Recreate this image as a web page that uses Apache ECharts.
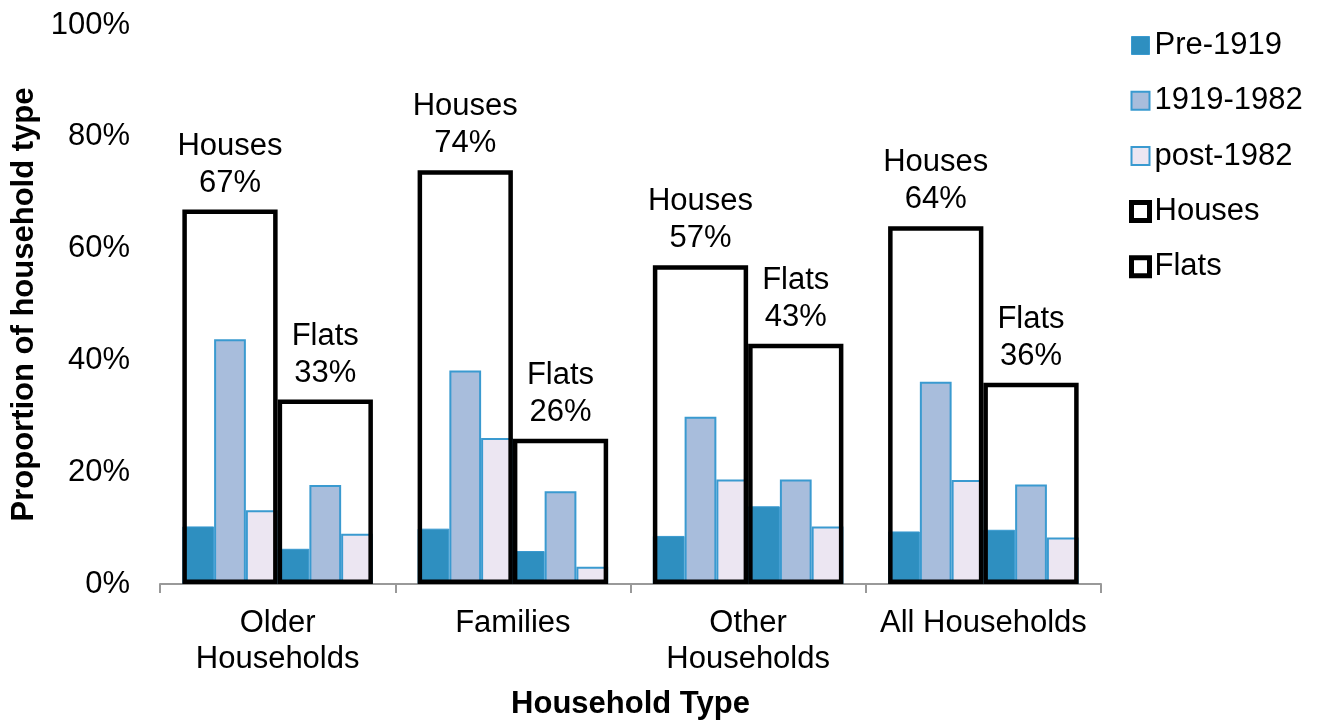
<!DOCTYPE html>
<html><head><meta charset="utf-8">
<script src="https://cdn.jsdelivr.net/npm/echarts@6/dist/echarts.min.js"></script>
<style>html,body{margin:0;padding:0;background:#fff}#c{width:1322px;height:720px}</style>
</head><body><div id="c"></div>
<script>
const categories = ['Older\nHouseholds', 'Families', 'Other\nHouseholds', 'All Households'];
const housesTotal = [67, 74, 57, 64];
const flatsTotal = [33, 26, 43, 36];
const housesPre1919 = [10.3, 9.9, 8.6, 9.4];
const houses1919_1982 = [43.8, 38.2, 29.9, 36.2];
const housesPost1982 = [13.2, 26.1, 18.7, 18.6];
const flatsPre1919 = [6.3, 5.9, 13.9, 9.7];
const flats1919_1982 = [17.7, 16.6, 18.7, 17.8];
const flatsPost1982 = [9.0, 3.1, 10.3, 8.3];
const yTicks = [0, 20, 40, 60, 80, 100];

const FONT = '"Liberation Sans", Arial, sans-serif';
const FS = 31;
const styles = {
  'Pre-1919': {color: '#2E8FC0', borderColor: '#3A9AD0', borderWidth: 1},
  '1919-1982': {color: '#A8BDDC', borderColor: '#3A9AD0', borderWidth: 2},
  'post-1982': {color: '#ECE6F2', borderColor: '#3A9AD0', borderWidth: 2}
};
function sub(name, data) {
  return {name, type: 'bar', xAxisIndex: 1, data, barGap: '0%', barCategoryGap: '19%',
    itemStyle: styles[name], z: 2, silent: true};
}
function outline(name, data) {
  return {name, type: 'bar', xAxisIndex: 0, data, barGap: '0%', barCategoryGap: '19%', z: 5,
    itemStyle: {color: 'rgba(255,255,255,0)', borderColor: '#000', borderWidth: 4.5},
    label: {show: true, position: 'top', distance: 8, fontFamily: FONT, fontSize: FS, color: '#000', lineHeight: 37,
      formatter: p => p.seriesName + '\n' + p.value + '%'}};
}
const chart = echarts.init(document.getElementById('c'));
chart.setOption({
  animation: false,
  textStyle: {fontFamily: FONT},
  grid: {left: 160, right: 221, top: 25, bottom: 136, outerBoundsMode: 'none', containLabel: false},
  legend: {
    orient: 'vertical', left: 1129, top: 30, padding: 0, itemGap: 24.3, itemWidth: 18, itemHeight: 18, itemTextGap: 7,
    icon: 'rect',
    data: [
      {name: 'Pre-1919', itemStyle: {color: '#2E8FC0', borderColor: '#3A9AD0', borderWidth: 1}},
      {name: '1919-1982', itemStyle: {color: '#A8BDDC', borderColor: '#3A9AD0', borderWidth: 2}},
      {name: 'post-1982', itemStyle: {color: '#ECE6F2', borderColor: '#3A9AD0', borderWidth: 2}},
      {name: 'Houses', itemStyle: {color: '#fff', borderColor: '#000', borderWidth: 5}},
      {name: 'Flats', itemStyle: {color: '#fff', borderColor: '#000', borderWidth: 5}}
    ],
    textStyle: {fontFamily: FONT, fontSize: FS, color: '#000'}
  },
  xAxis: [
    {type: 'category', data: categories, name: 'Household Type', nameLocation: 'middle', nameGap: 105,
      nameTextStyle: {fontFamily: FONT, fontSize: FS, fontWeight: 'bold', color: '#000'},
      axisLine: {lineStyle: {color: '#999', width: 2}},
      axisTick: {show: true, length: 9, lineStyle: {color: '#999', width: 2}},
      axisLabel: {fontFamily: FONT, fontSize: FS, color: '#000', margin: 21, lineHeight: 36, interval: 0}},
    {type: 'category', data: categories, show: false}
  ],
  yAxis: {type: 'value', min: yTicks[0], max: yTicks[yTicks.length - 1], interval: 20,
    name: 'Proportion of household type', nameLocation: 'middle', nameGap: 117,
    nameTextStyle: {fontFamily: FONT, fontSize: FS, fontWeight: 'bold', color: '#000'},
    axisLine: {show: false}, axisTick: {show: false}, splitLine: {show: false},
    axisLabel: {fontFamily: FONT, fontSize: FS, color: '#000', margin: 30, formatter: '{value}%'}},
  series: [
    sub('Pre-1919', housesPre1919), sub('1919-1982', houses1919_1982), sub('post-1982', housesPost1982),
    sub('Pre-1919', flatsPre1919), sub('1919-1982', flats1919_1982), sub('post-1982', flatsPost1982),
    outline('Houses', housesTotal), outline('Flats', flatsTotal)
  ]
});
</script></body></html>
